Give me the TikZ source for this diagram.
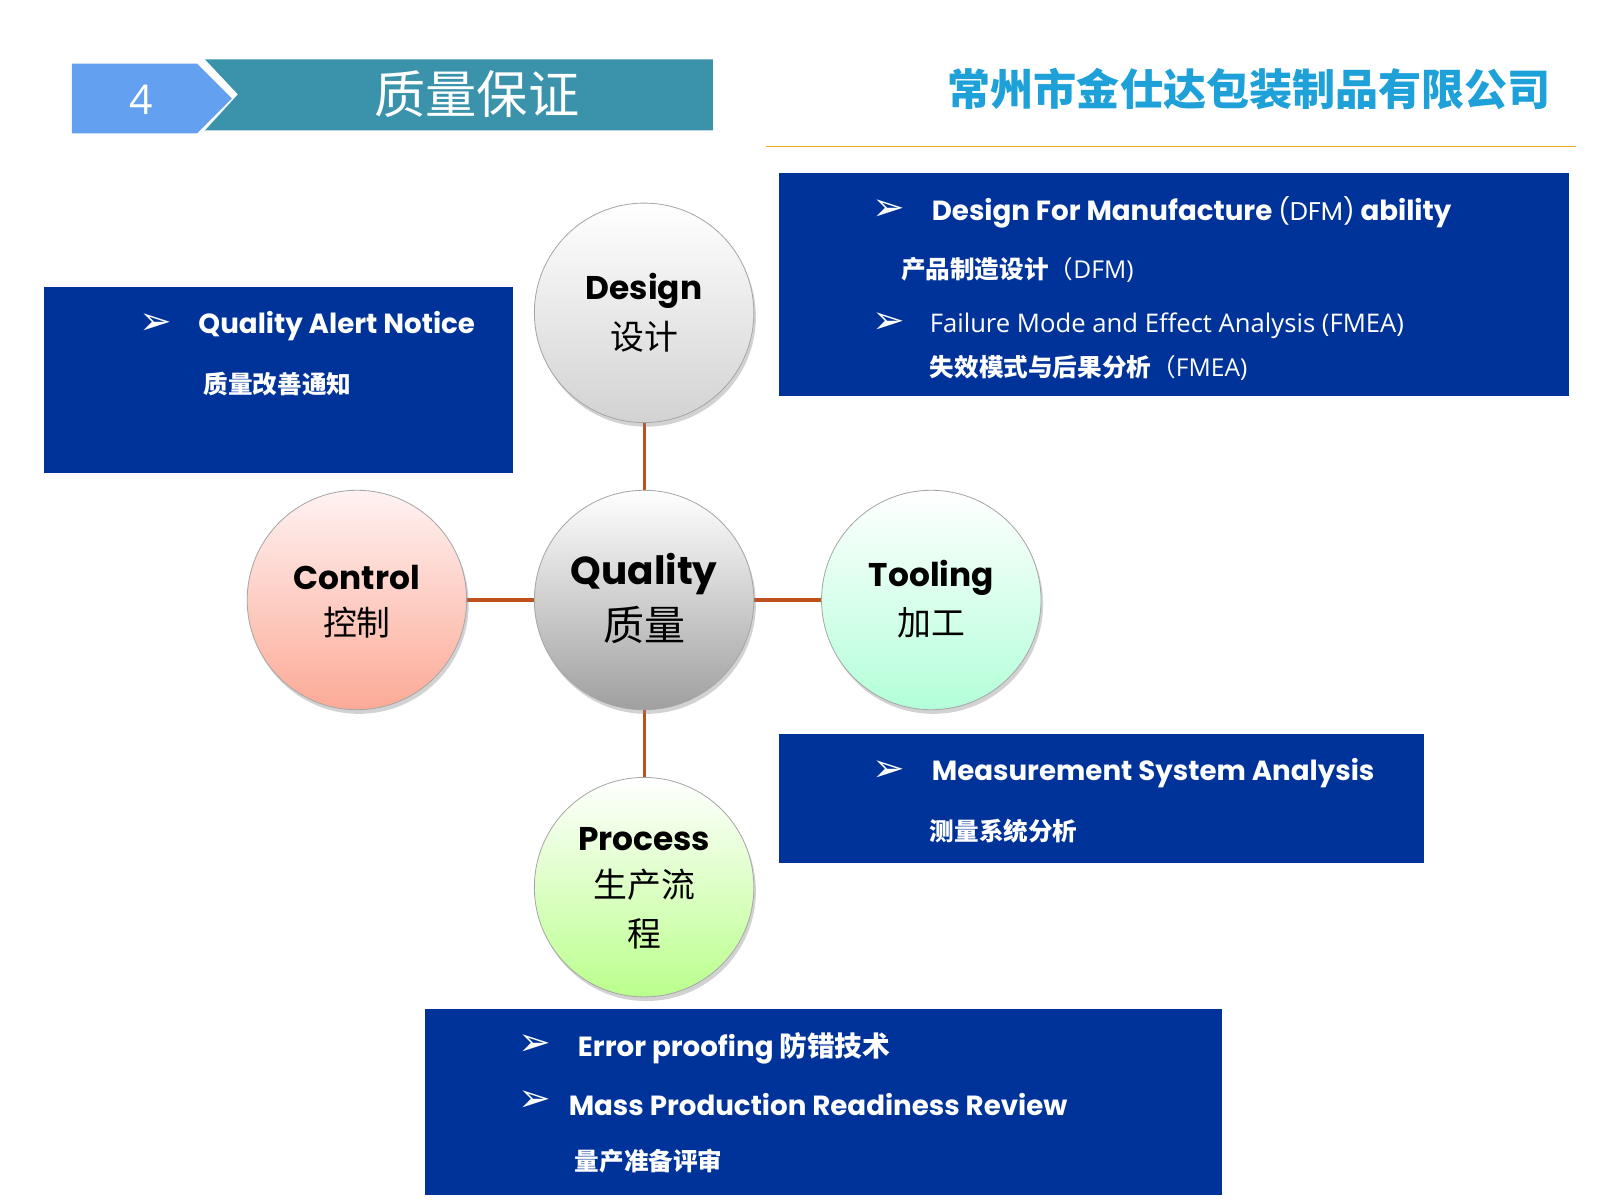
\documentclass[tikz,border=0pt]{standalone}
\usepackage{fontspec}
\setmainfont{Poppins}
\newfontfamily\cjk{Noto Sans CJK SC}
\newfontfamily\djv{DejaVu Sans}
\newfontfamily\opn{Open Sans}
\usetikzlibrary{shadows}
\definecolor{navy}{RGB}{0,51,153}
\definecolor{teal1}{RGB}{58,147,171}
\definecolor{lblue}{RGB}{100,160,240}
\definecolor{comp}{RGB}{30,160,216}
\definecolor{lnk}{RGB}{190,80,30}
\definecolor{salmon1}{RGB}{252,170,150}
\definecolor{orln}{RGB}{240,170,40}
\begin{document}
\begin{tikzpicture}[x=1pt,y=-1pt,
 circ/.style={circle,minimum size=214pt,draw=gray!70,line width=0.8pt,drop shadow={shadow xshift=2pt,shadow yshift=-4pt,opacity=0.35},align=center,inner sep=0pt},
 box/.style={fill=navy,draw=none},
 en/.style={font=\bfseries\fontsize{27}{30}\selectfont,text=white,anchor=west},
 zh/.style={font=\cjk\bfseries\fontsize{24}{28}\selectfont,text=white,anchor=west},
 bul/.style={font=\djv\fontsize{38}{40}\selectfont,text=white,anchor=west},
 lnkst/.style={draw=lnk,line width=3pt}]
\useasboundingbox (0,0) rectangle (1560,1170);
\fill[white] (0,0) rectangle (1560,1170);
% header
\fill[lblue] (70,62) -- (192,62) -- (226,96) -- (192,130) -- (70,130) -- cycle;
\fill[teal1] (200,58) -- (695,58) -- (695,127) -- (200,127) -- (232,92) -- cycle;
\node[font=\opn\fontsize{40}{44}\selectfont,text=white] (num) at (138,97) {4};
\node[font=\cjk\fontsize{50}{54}\selectfont,text=white] (title) at (465,92) {质量保证};
\node[font=\cjk\bfseries\fontsize{42}{46}\selectfont,text=comp] (co) at (1218,87) {常州市金仕达包装制品有限公司};
\draw[draw=orln,line width=1.5pt] (747,143) -- (1537,143);
% boxes
\fill[box] (43,280) rectangle (500,461);
\fill[box] (760,169) rectangle (1530,386);
\fill[box] (760,716) rectangle (1388,841);
\fill[box] (414,984) rectangle (1191,1165);
% links
\draw[lnkst] (628,305) -- (628,865);
\draw[lnkst] (348,585) -- (908,585);
% circles
\node[circ,top color=white,bottom color=gray!35] (design) at (628,305) {};
\node[circ,top color=white,bottom color=gray!75] (quality) at (628,585) {};
\node[circ,top color=red!5,bottom color=salmon1] (control) at (348,585) {};
\node[circ,top color=white,bottom color=green!50!cyan!30] (tooling) at (908,585) {};
\node[circ,top color=white,bottom color=green!60!yellow!45] (process) at (628,865) {};
\node[font=\bfseries\fontsize{32}{36}\selectfont] (l1) at (628,284) {Design};
\node[font=\cjk\fontsize{33}{36}\selectfont] (l1z) at (628,328) {设计};
\node[font=\bfseries\fontsize{38}{42}\selectfont] (l2) at (628,560) {Quality};
\node[font=\cjk\fontsize{40}{42}\selectfont] (l2z) at (628,609) {质量};
\node[font=\bfseries\fontsize{32}{36}\selectfont] (l3) at (348,563) {Control};
\node[font=\cjk\fontsize{33}{36}\selectfont] (l3z) at (348,607) {控制};
\node[font=\bfseries\fontsize{32}{36}\selectfont] (l4) at (908,563) {Tooling};
\node[font=\cjk\fontsize{33}{36}\selectfont] (l4z) at (908,607) {加工};
\node[font=\bfseries\fontsize{32}{36}\selectfont] (l5) at (628,818) {Process};
\node[font=\cjk\fontsize{33}{36}\selectfont] (l5z) at (628,863) {生产流};
\node[font=\cjk\fontsize{33}{36}\selectfont] (l5y) at (628,910) {程};
% left box text
\node[bul] (b1) at (132,316) {➢};
\node[en] (t1) at (190,318) {Quality Alert Notice};
\node[zh] (z1) at (195,374) {质量改善通知};
% top right
\node[bul] (b2) at (847,205) {➢};
\node[en] (t2) at (905,207) {Design For Manufacture {\mdseries\fontsize{25}{28}\selectfont (DFM)} ability};
\node[zh] (z2) at (875,263) {产品制造设计{\mdseries（}{\opn\mdseries DFM)}};
\node[bul] (b3) at (847,315) {➢};
\node[anchor=west,text=white,font=\opn\fontsize{25}{28}\selectfont] (t3) at (903,318) {Failure Mode and Effect Analysis (FMEA)};
\node[zh] (z3) at (903,359) {失效模式与后果分析{\mdseries（}{\opn\mdseries FMEA)}};
% mid right
\node[bul] (b4) at (847,752) {➢};
\node[en] (t4) at (905,754) {Measurement System Analysis};
\node[zh] (z4) at (903,810) {测量系统分析};
% bottom
\node[bul] (b5) at (502,1019) {➢};
\node[en] (t5) at (560,1022) {Error proofing {\cjk 防错技术}};
\node[bul] (b6) at (502,1074) {➢};
\node[en] (t6) at (551,1077) {Mass Production Readiness Review};
\node[zh] (z6) at (557,1132) {量产准备评审};
\end{tikzpicture}
\end{document}
